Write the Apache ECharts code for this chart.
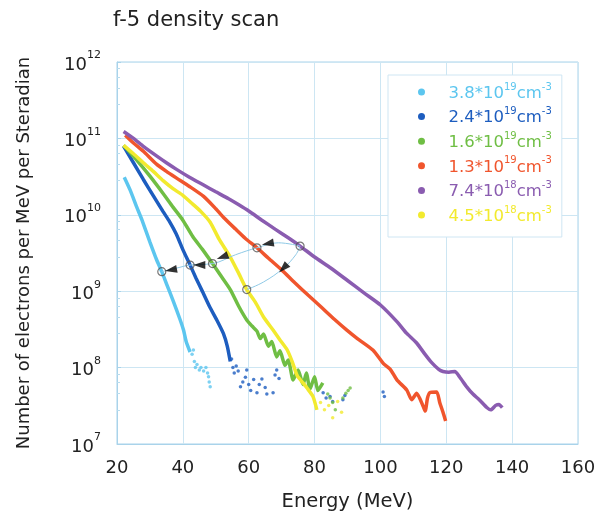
<!DOCTYPE html>
<html>
<head>
<meta charset="utf-8">
<script src="https://cdn.jsdelivr.net/npm/echarts@6/dist/echarts.min.js"></script>
<style>
  html, body { margin: 0; padding: 0; background: #fff; }
  #chart { width: 603px; height: 517px; }
</style>
</head>
<body>
<div id="chart"></div>
<script>
// tick values
const xTicks = [20, 40, 60, 80, 100, 120, 140, 160];
const yDecades = [7, 8, 9, 10, 11, 12];

// legend: plasma densities
const densityMant = ['3.8', '2.4', '1.6', '1.3', '7.4', '4.5'];
const densityExp = ['19', '19', '19', '19', '18', '18'];
const densityNames = densityMant.map((m, i) => m + '*10^' + densityExp[i] + 'cm^-3');

// spectra [energy MeV, electrons per MeV per sr]
const cyanLine = [[22.2,3.1e10],[24,2.1e10],[26,1.26e10],[27.6,8.5e9],[30,4.4e9],[32,2.6e9],[33.6,1.8e9],[35,1.26e9],[37,7.6e8],[39.2,4.2e8],[40.2,3.1e8],[41,2.2e8],[42.2,1.6e8]];
const cyanDots = [[42.8,1.5e8],[43.2,1.7e8],[43.5,1.2e8],[43.8,1.0e8],[44.3,1.1e8],[45.0,9.3e7],[45.5,1.0e8],[46.3,9.0e7],[47.0,1.0e8],[47.5,8.5e7],[47.8,7.6e7],[48.0,6.5e7],[48.3,5.6e7]];

const blueLine = [[22,7.9e10],[25,4.8e10],[28,2.9e10],[31,1.78e10],[34,1.1e10],[36,8.1e9],[38,5.6e9],[40,3.5e9],[42.2,2.2e9],[44,1.48e9],[46,9.8e8],[48.1,6.3e8],[50.3,4.2e8],[52.3,2.8e8],[53.5,1.9e8],[54.4,1.2e8]];
const blueDots = [[54.8,1.3e8],[55.2,1.0e8],[55.6,8.5e7],[56.2,1.05e8],[56.8,9.0e7],[57.5,5.6e7],[58.2,6.5e7],[59.0,7.5e7],[59.4,9.3e7],[60.0,6.0e7],[60.6,5.0e7],[61.5,7.0e7],[62.5,4.7e7],[63.2,6.0e7],[64.0,7.1e7],[65.0,5.5e7],[65.5,4.5e7],[67.4,4.7e7],[68.0,8.0e7],[68.5,9.3e7],[69.2,7.2e7],[82.6,4.7e7],[83.5,4.0e7],[84.7,4.2e7],[85.5,3.6e7],[88.6,3.8e7],[89.2,4.3e7],[100.8,4.8e7],[101.2,4.2e7]];

const greenLine = [[22,8.1e10],[26,5.2e10],[30,3.2e10],[34,1.9e10],[37,1.26e10],[40,8.5e9],[43,5.2e9],[46,3.5e9],[49,2.3e9],[51.5,1.6e9],[54.4,1.05e9],[57,6.3e8],[59.4,4.2e8],[61,3.5e8],[62.5,3.0e8],[63.5,2.4e8],[64.5,2.75e8],[66,1.9e8],[67,2.2e8],[68.5,1.38e8],[69.5,1.66e8],[71,1.07e8],[72,1.26e8],[73.5,6.9e7],[75,9.3e7],[76.5,6.0e7],[77.5,8.5e7],[78.6,5.2e7],[80,7.6e7],[81,5.0e7],[82.5,6.3e7]];
const greenDots = [[84,4.5e7],[84.7,4.0e7],[85.5,3.5e7],[86.3,2.8e7],[88.6,4.0e7],[89.5,4.6e7],[90.2,5.0e7],[90.8,5.4e7]];

const redLine = [[22.5,1.1e11],[25,8.7e10],[28,6.8e10],[32,4.6e10],[35,3.7e10],[38.2,3.0e10],[42,2.35e10],[46.3,1.74e10],[50,1.2e10],[52.3,9.3e9],[56,6.5e9],[59,4.9e9],[62.5,3.7e9],[66,2.7e9],[70,1.9e9],[74,1.29e9],[78,8.9e8],[82,6.2e8],[86,4.3e8],[89.8,3.1e8],[93,2.4e8],[97.7,1.7e8],[101,1.12e8],[103,9.5e7],[105,6.9e7],[108,5.1e7],[109.5,3.8e7],[111,4.6e7],[113,3.1e7],[113.6,2.7e7],[114.3,4.0e7],[115,4.7e7],[117.1,4.8e7],[118,3.5e7],[119,2.6e7],[119.8,2.0e7]];

const purpleLine = [[22,1.23e11],[25,1.0e11],[28.1,7.8e10],[32,5.9e10],[35,4.8e10],[38.2,3.9e10],[42,3.1e10],[46.3,2.45e10],[50,2.0e10],[53.9,1.62e10],[57,1.35e10],[60,1.12e10],[64,8.5e9],[68,6.5e9],[72,5.0e9],[75.6,3.9e9],[80,2.8e9],[85,2.0e9],[90,1.38e9],[95,9.5e8],[100,6.6e8],[105,4.0e8],[108,2.8e8],[111,2.1e8],[113.5,1.5e8],[115.5,1.17e8],[117.7,9.5e7],[119,8.9e7],[120.8,8.7e7],[122.6,8.9e7],[124,7.6e7],[126.2,5.6e7],[128.1,4.5e7],[130,3.8e7],[132.3,3.0e7],[133.5,2.8e7],[135,3.2e7],[136,3.3e7],[137,3.0e7]];

const yellowLine = [[22,8.1e10],[25,6.3e10],[28,4.8e10],[31,3.7e10],[34,2.8e10],[37,2.2e10],[40,1.8e10],[43,1.38e10],[45.5,1.1e10],[48.3,8.0e9],[51,4.8e9],[54.4,2.8e9],[57,1.7e9],[59.4,1.05e9],[62,7.2e8],[64.5,4.6e8],[67.4,3.1e8],[69.5,2.3e8],[71.7,1.7e8],[73.2,1.2e8],[74.7,7.9e7],[76.5,6.3e7],[77.7,5.4e7],[79.5,4.2e7],[80.7,2.8e7]];
const yellowDots = [[81.8,3.5e7],[83,2.8e7],[84.3,3.2e7],[85.5,2.2e7],[87,3.6e7],[88.2,2.6e7]];

// cutoff markers and the arrows that link them
const scanPath = [[75.6,3.9e9],[69,4.3e9],[62.5,3.7e9],[56,3.0e9],[49,2.3e9],[42.2,2.2e9],[38,2.0e9],[33.6,1.8e9]];
const returnPath = [[59.4,1.05e9],[64.5,1.32e9],[70.5,2.0e9],[74.3,3.0e9],[75.6,3.9e9]];
const cutoffPoints = [[33.6,1.8e9],[42.2,2.2e9],[49,2.3e9],[59.4,1.05e9],[62.5,3.7e9],[75.6,3.9e9]];
const arrowPoints = [[36.4,1.9e9],[45,2.2e9],[52,2.8e9],[65.8,4.2e9],[70.5,2.0e9]];
const arrowAngles = [100, 90, 110, 100, 135];

const lines = [cyanLine, blueLine, greenLine, redLine, purpleLine, yellowLine];
const dots = [cyanDots, blueDots, greenDots, [], [], yellowDots];
const colors = ['#5cc6ef', '#1d5dbf', '#6fbe44', '#f0552d', '#8a5cb0', '#f2ea2e'];
const FONT = 'DejaVu Sans';

const chart = echarts.init(document.getElementById('chart'));

const series = [];
lines.forEach((d, i) => {
    series.push({
        name: densityNames[i],
        type: 'line',
        data: d,
        showSymbol: false,
        smooth: 0.2,
        lineStyle: { color: colors[i], width: 3.5 },
        itemStyle: { color: colors[i] },
        z: 2
    });
    if (dots[i].length) {
        series.push({
            name: densityNames[i],
            type: 'scatter',
            data: dots[i],
            symbolSize: 3.5,
            itemStyle: { color: colors[i] },
            z: 2
        });
    }
});

// thin connectors
[scanPath, returnPath].forEach(p => {
    series.push({
        type: 'line',
        data: p,
        smooth: 0.4,
        showSymbol: false,
        lineStyle: { color: '#8ec9e6', width: 1 },
        z: 5
    });
});
series.push({
    type: 'scatter',
    data: cutoffPoints,
    symbol: 'circle',
    symbolSize: 8,
    itemStyle: { color: 'rgba(255,255,255,0)', borderColor: '#555', borderWidth: 1.2 },
    z: 6
});
series.push({
    type: 'scatter',
    data: arrowPoints.map((p, i) => ({ value: p, symbolRotate: arrowAngles[i] })),
    symbol: 'triangle',
    symbolSize: [8, 12],
    itemStyle: { color: '#000' },
    z: 7
});

// rich styles for the legend text
const legendRich = { g: { width: 18 } };
colors.forEach((c, i) => {
    legendRich['n' + i] = { fontFamily: FONT, fontSize: 16.5, color: c, lineHeight: 20, verticalAlign: 'bottom' };
    legendRich['s' + i] = { fontFamily: FONT, fontSize: 10, color: c, verticalAlign: 'top' };
});

const option = {
    animation: false,
    title: {
        text: 'f-5 density scan',
        left: 108,
        top: 5,
        textStyle: { fontFamily: FONT, fontSize: 21, fontWeight: 'normal', color: '#222' }
    },
    legend: {
        data: densityNames,
        orient: 'vertical',
        left: 388,
        top: 75,
        icon: 'circle',
        itemWidth: 8,
        itemHeight: 7,
        itemGap: 4.6,
        padding: [7, 10, 12, 30],
        backgroundColor: '#fff',
        borderColor: '#cfe6f3',
        borderWidth: 1,
        formatter: name => {
            const i = densityNames.indexOf(name);
            return '{g| }{n' + i + '|' + densityMant[i] + '*10}{s' + i + '|' + densityExp[i] + '}{n' + i + '|cm}{s' + i + '|-3}';
        },
        textStyle: { rich: legendRich }
    },
    grid: { left: 117, right: 25, top: 62, bottom: 73, show: true, borderColor: '#a9d3ea', borderWidth: 1 },
    xAxis: {
        type: 'value',
        min: xTicks[0],
        max: xTicks[xTicks.length - 1],
        interval: xTicks[1] - xTicks[0],
        name: 'Energy (MeV)',
        nameLocation: 'middle',
        nameGap: 48,
        nameTextStyle: { fontFamily: FONT, fontSize: 19.5, color: '#222' },
        axisLine: { lineStyle: { color: '#a9d3ea' } },
        axisTick: { show: false },
        axisLabel: { fontFamily: FONT, fontSize: 18, color: '#222', margin: 15 },
        splitLine: { lineStyle: { color: '#cde6f3' } }
    },
    yAxis: {
        type: 'log',
        logBase: 10,
        min: Math.pow(10, yDecades[0]),
        max: Math.pow(10, yDecades[yDecades.length - 1]),
        name: 'Number of electrons per MeV per Steradian',
        nameLocation: 'middle',
        nameGap: 84,
        nameTextStyle: { fontFamily: FONT, fontSize: 18, color: '#222' },
        axisLine: { lineStyle: { color: '#a9d3ea' } },
        axisTick: { show: true, inside: true, length: 4, lineStyle: { color: '#a9d3ea' } },
        minorTick: { show: true, splitNumber: 5, length: 3, lineStyle: { color: '#b9dcee' } },
        axisLabel: {
            margin: 16,
            formatter: v => '{b|10}{s|' + Math.round(Math.log10(v)) + '}',
            rich: {
                b: { fontFamily: FONT, fontSize: 18, color: '#222', lineHeight: 24, verticalAlign: 'bottom' },
                s: { fontFamily: FONT, fontSize: 11, color: '#222', verticalAlign: 'top' }
            }
        },
        splitLine: { lineStyle: { color: '#cde6f3' } }
    },
    series: series
};

chart.setOption(option);
</script>
</body>
</html>
